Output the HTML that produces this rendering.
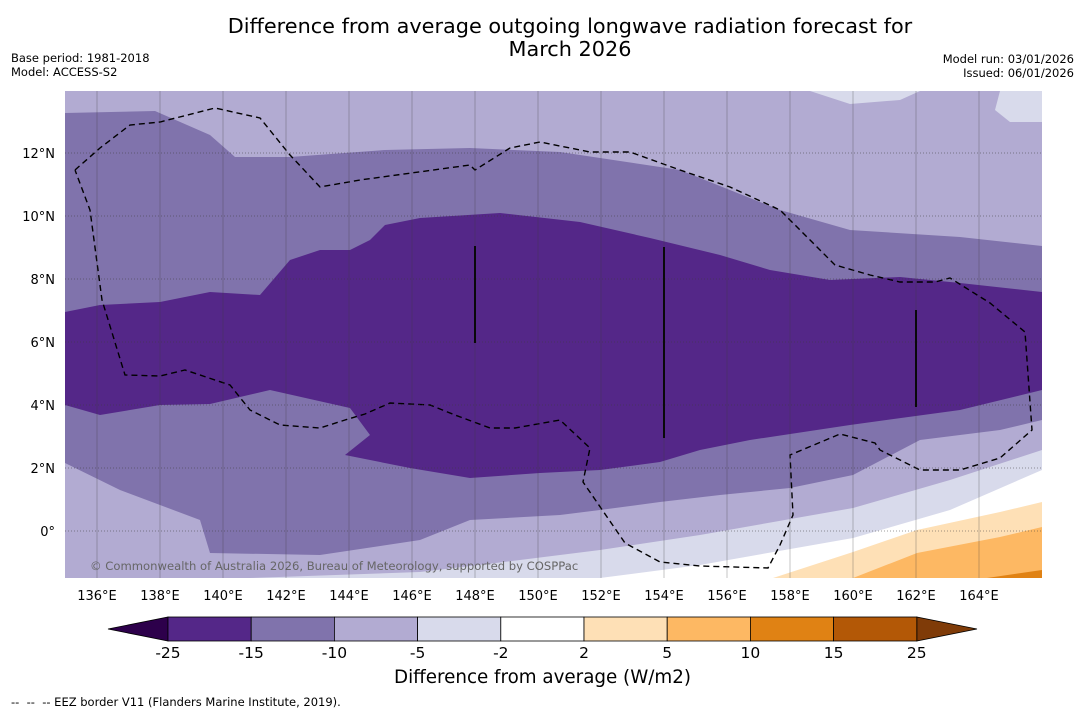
<!DOCTYPE html>
<html><head><meta charset="utf-8">
<style>
body{margin:0;background:#fff;font-family:"DejaVu Sans","Liberation Sans",sans-serif;}
#wrap{position:relative;width:1085px;height:713px;overflow:hidden;background:#fff}
.t{position:absolute;white-space:nowrap;color:#000}
</style></head>
<body>
<div id="wrap">
<div class="t" style="left:0;width:1140px;text-align:center;top:15px;font-size:20.8px;line-height:23px">Difference from average outgoing longwave radiation forecast for<br>March 2026</div>
<div class="t" style="left:11px;top:51px;font-size:11.5px;line-height:14px">Base period: 1981-2018<br>Model: ACCESS-S2</div>
<div class="t" style="right:11px;top:52px;font-size:11.5px;line-height:14px;text-align:right">Model run: 03/01/2026<br>Issued: 06/01/2026</div>
<svg id="svg" width="1085" height="713" style="position:absolute;left:0;top:0"></svg>
<div class="t" style="left:0;width:1085px;text-align:center;top:667px;font-size:18.3px">Difference from average (W/m2)</div>
<div class="t" style="left:11px;top:695px;font-size:11.5px">--&nbsp; --&nbsp; -- EEZ border V11 (Flanders Marine Institute, 2019).</div>
</div>
<script>
const NS="http://www.w3.org/2000/svg";
const svg=document.getElementById('svg');
const lonTicks=[136,138,140,142,144,146,148,150,152,154,156,158,160,162,164];
const latTicks=[0,2,4,6,8,10,12];
const cbLevels=["-25","-15","-10","-5","-2","2","5","10","15","25"];
const cbColors=["#542788","#8073ac","#b2abd2","#d8daeb","#ffffff","#fee0b6","#fdb863","#e08214","#b35806"];
const X=lon=>65.5+(lon-135)*31.5, Y=lat=>531-lat*31.5;
function mk(t,a,p){const e=document.createElementNS(NS,t);for(const k in a)e.setAttribute(k,a[k]);(p||svg).appendChild(e);return e;}
const g=mk('g',{});


mk('rect',{x:65,y:91,width:977,height:487,fill:'#b2abd2'},g);
const regions=[
 ['#8073ac','65,113 155,111 210,135 235,157 290,157 385,150 470,148 560,152 680,170 780,210 850,230 960,237 1042,246 1042,420 1000,430 920,440 853,475 790,488 720,495 660,502 600,510 560,515 470,520 420,540 320,555 210,553 200,520 120,490 65,463','contour-minus10'],
 ['#542788','65,312 100,305 160,302 210,292 260,295 290,260 320,250 350,250 370,240 385,225 420,218 500,213 580,222 650,238 720,255 770,270 830,280 900,277 960,283 1042,292 1042,390 960,410 850,425 750,440 700,450 660,462 600,470 540,473 470,478 410,468 345,455 370,435 350,408 270,390 210,404 160,405 100,415 65,405','contour-minus15'],
 ['#d8daeb','65,578 150,578 250,578 420,572 520,560 600,550 700,535 853,508 950,480 1042,450 1042,578','contour-minus5'],
 ['#d8daeb','810,91 850,104 900,100 920,91','contour-top-a'],
 ['#d8daeb','1000,91 995,110 1010,122 1042,122 1042,91','contour-top-b'],
 ['#ffffff','600,578 700,565 853,538 950,510 1042,470 1042,578','contour-minus2'],
 ['#fee0b6','773,578 853,552 917,530 1000,512 1042,502 1042,578','contour-2'],
 ['#fdb863','853,578 917,553 1000,537 1042,527 1042,578','contour-5'],
 ['#e08214','987,578 1042,570 1042,578','contour-10']
];
regions.forEach(r=>{const e=mk('polygon',{points:r[1],fill:r[0]},g);
 
 });
lonTicks.forEach(l=>{const e=mk('line',{x1:X(l),x2:X(l),y1:91,y2:578,stroke:'rgba(60,60,60,0.3)','stroke-width':1});
 
 
 const t=mk('text',{x:X(l),y:600,'text-anchor':'middle','font-size':13,fill:'#000'});t.textContent=l+'°E';
 
 });
latTicks.forEach(l=>{const e=mk('line',{x1:65,x2:1042,y1:Y(l),y2:Y(l),stroke:'rgba(60,60,60,0.5)','stroke-width':1,'stroke-dasharray':'1,2'});
 
 
 const t=mk('text',{x:55,y:Y(l)+5,'text-anchor':'end','font-size':13,fill:'#000'});t.textContent=l===0?'0°':l+'°N';
 
 });
const eez=mk('polyline',{points:'75,170 100,148 130,125 160,122 215,108 260,118 290,155 320,187 360,180 470,165 475,170 510,148 540,142 590,152 630,152 680,170 730,187 780,210 835,265 870,275 900,282 935,282 950,278 990,303 1025,332 1032,430 1000,458 960,470 920,470 880,450 875,443 840,434 790,455 793,515 780,545 768,568 700,566 660,562 625,543 583,482 590,448 560,420 515,428 490,428 455,415 430,405 390,403 365,414 345,420 320,428 280,425 250,410 230,385 185,370 160,376 125,375 102,300 90,210 75,170',fill:'none',stroke:'#000','stroke-width':1.4,'stroke-dasharray':'6,4'},g);


[[475,246,343],[664,247,438],[916,310,407]].forEach(v=>{const e=mk('line',{x1:v[0],x2:v[0],y1:v[1],y2:v[2],stroke:'#000','stroke-width':2},g);
 
 });
const cp=mk('text',{x:90,y:570,'font-size':11.6,fill:'#666'},g);cp.textContent='© Commonwealth of Australia 2026, Bureau of Meteorology, supported by COSPPac';


const cb=mk('g',{});


const cx0=168,cw=83.2,cy=617,ch=24;
mk('polygon',{points:`108,${cy+ch/2} ${cx0},${cy} ${cx0},${cy+ch}`,fill:'#2d004b',stroke:'#000','stroke-width':0.8},cb);
const x1=cx0+cw*cbColors.length;
mk('polygon',{points:`977,${cy+ch/2} ${x1},${cy} ${x1},${cy+ch}`,fill:'#7f3b08',stroke:'#000','stroke-width':0.8},cb);
cbColors.forEach((c,i)=>{const e=mk('rect',{x:cx0+i*cw,y:cy,width:cw,height:ch,fill:c,stroke:'#000','stroke-width':0.8},cb);
 
 });
cbLevels.forEach((l,i)=>{const t=mk('text',{x:cx0+i*cw,y:658,'text-anchor':'middle','font-size':15.5,fill:'#000'},cb);t.textContent=l;
 
 });
</script>
</body></html>
